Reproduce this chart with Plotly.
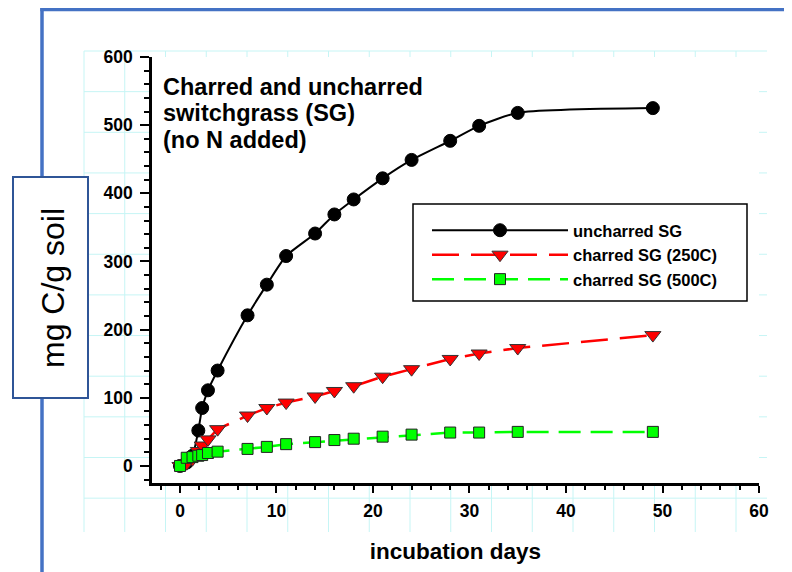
import plotly.graph_objects as go

# ---------------- data ----------------
days = [0, 0.7, 1.3, 1.9, 2.3, 2.9, 3.9, 7, 9, 11, 14, 16, 18, 21, 24, 28, 31, 35, 49]
uncharred_sg = [0, 5, 15, 52, 85, 111, 140, 221, 266, 308, 341, 369, 391, 422, 449, 477, 499, 518, 525]
charred_250 = [0, 4, 10, 22, 30, 39, 54, 74, 85, 93, 102, 110, 117, 131, 142, 157, 165, 173, 192]
charred_500 = [0, 12, 13, 15, 16, 19, 21, 25, 28, 32, 35, 38, 40, 43, 46, 49, 49, 50, 50]

series_names = ["uncharred SG", "charred SG (250C)", "charred SG (500C)"]
title_lines = ["Charred and uncharred", "switchgrass (SG)", "(no N added)"]
x_ticks = [0, 10, 20, 30, 40, 50, 60]
y_ticks = [0, 100, 200, 300, 400, 500, 600]

# ---------------- geometry helpers (layout only) ----------------
W, H = 792, 572
OFF = 8                          # page body margin
L, R, T, B = 152, 759, 57, 483   # plot-area box in screen pixels


def xp(px):
    return (px - L) / (R - L)


def yp(py):
    return (B - py) / (B - T)


FONT = "Liberation Sans, Arial, sans-serif"

fig = go.Figure()

fig.add_trace(go.Scatter(
    x=days, y=uncharred_sg, name=series_names[0], mode="lines+markers",
    line=dict(color="black", width=2, shape="spline", smoothing=0.6),
    marker=dict(symbol="circle", size=13, color="black", line=dict(color="black", width=1)),
))
fig.add_trace(go.Scatter(
    x=days, y=charred_250, name=series_names[1], mode="lines+markers",
    line=dict(color="#FF0000", width=2.5, dash="27px,12px"),
    marker=dict(symbol="triangle-down", size=14, color="#FF0000", line=dict(color="#333333", width=1)),
))
fig.add_trace(go.Scatter(
    x=days, y=charred_500, name=series_names[2], mode="lines+markers",
    line=dict(color="#00FF00", width=2.5, dash="22px,10px"),
    marker=dict(symbol="square", size=11, color="#00FF00", line=dict(color="#222222", width=1)),
))

shapes = []
# light cyan slide grid in the background
grid_col = "#C6F5F5"
gx0, gx1, gy0, gy1 = 84, 767, 51, 532
for k in range(17):
    px = 84 + 40.75 * k
    shapes.append(dict(type="line", xref="paper", yref="paper", layer="below",
                       x0=xp(px), x1=xp(px), y0=yp(gy0), y1=yp(gy1),
                       line=dict(color=grid_col, width=1)))
for k in range(12):
    py = 51 + 40.65 * k
    shapes.append(dict(type="line", xref="paper", yref="paper", layer="below",
                       x0=xp(gx0), x1=xp(gx1), y0=yp(py), y1=yp(py),
                       line=dict(color=grid_col, width=1)))
# white plot area over the grid
shapes.append(dict(type="rect", xref="paper", yref="paper", layer="below",
                   x0=0, x1=1, y0=0, y1=1, fillcolor="white", line=dict(width=0)))
# blue slide frame
blue = "#4472C4"
shapes.append(dict(type="line", xref="paper", yref="paper", layer="above",
                   x0=xp(42), x1=xp(42), y0=yp(8), y1=yp(590), line=dict(color=blue, width=3.5)))
shapes.append(dict(type="line", xref="paper", yref="paper", layer="above",
                   x0=xp(40.3), x1=xp(810), y0=yp(9.5), y1=yp(9.5), line=dict(color=blue, width=3.5)))
# y-label box
shapes.append(dict(type="rect", xref="paper", yref="paper", layer="above",
                   x0=xp(13), x1=xp(88), y0=yp(398), y1=yp(177),
                   fillcolor="white", line=dict(color="#2F5597", width=2)))
# legend box
shapes.append(dict(type="rect", xref="paper", yref="paper", layer="below",
                   x0=xp(413), x1=xp(747), y0=yp(301), y1=yp(204),
                   fillcolor="rgba(0,0,0,0)", line=dict(color="black", width=1.5)))

annotations = []
for line_text, cy in zip(title_lines, [87, 113.5, 140]):
    annotations.append(dict(text=line_text, xref="paper", yref="paper", x=xp(161), y=yp(cy),
                            xanchor="left", yanchor="middle", align="left", showarrow=False,
                            font=dict(family=FONT, size=23.5, color="black", weight="bold")))
annotations.append(dict(text="mg C/g soil", xref="paper", yref="paper", x=xp(53), y=yp(288),
                        xanchor="center", yanchor="middle", textangle=-90, showarrow=False,
                        font=dict(family=FONT, size=32, color="black")))

tickfont = dict(family=FONT, size=17.5, color="black", weight="bold")

fig.update_layout(
    width=W, height=H,
    margin=dict(l=L - OFF, r=W - (R - OFF), t=T - OFF, b=H - (B - OFF), pad=0),
    paper_bgcolor="white", plot_bgcolor="white",
    showlegend=True,
    legend=dict(x=xp(427), y=yp(213), xanchor="left", yanchor="top",
                bgcolor="rgba(0,0,0,0)", borderwidth=0, itemwidth=136,
                font=dict(family=FONT, size=16.5, color="black", weight="bold"),
                tracegroupgap=0),
    shapes=shapes,
    annotations=annotations,
    xaxis=dict(range=[-2.9, 60], tickvals=x_ticks, ticktext=[str(v) for v in x_ticks],
               ticks="outside", ticklen=7, tickwidth=2, tickcolor="black",
               minor=dict(dtick=2, tick0=0, ticks="outside", ticklen=4, tickwidth=2, tickcolor="black"),
               showline=True, linewidth=2.5, linecolor="black", showgrid=False, zeroline=False,
               tickfont=tickfont, ticklabelstandoff=3,
               title=dict(text="incubation days", standoff=24,
                          font=dict(family=FONT, size=22.5, color="black", weight="bold"))),
    yaxis=dict(range=[-25, 600], tickvals=y_ticks, ticktext=[str(v) for v in y_ticks],
               ticks="outside", ticklen=9, tickwidth=2, tickcolor="black",
               minor=dict(dtick=20, tick0=0, ticks="outside", ticklen=5, tickwidth=2, tickcolor="black"),
               showline=True, linewidth=2.5, linecolor="black", showgrid=False, zeroline=False,
               tickfont=tickfont, ticklabelstandoff=4),
    xaxis2=dict(overlaying="x", side="top", anchor="y", range=[-2.9, 60], tickvals=x_ticks,
                ticks="inside", ticklen=6, tickwidth=2, tickcolor="black",
                minor=dict(dtick=2, tick0=0, ticks="inside", ticklen=4, tickwidth=2, tickcolor="black"),
                showticklabels=False, showline=True, linewidth=2.5, linecolor="black",
                showgrid=False, zeroline=False),
    yaxis2=dict(overlaying="y", side="right", anchor="x", range=[-25, 600], tickvals=y_ticks,
                ticks="inside", ticklen=6, tickwidth=2, tickcolor="black",
                minor=dict(dtick=20, tick0=0, ticks="inside", ticklen=4, tickwidth=2, tickcolor="black"),
                showticklabels=False, showline=True, linewidth=2.5, linecolor="black",
                showgrid=False, zeroline=False),
)

fig.write_html("out.html")
